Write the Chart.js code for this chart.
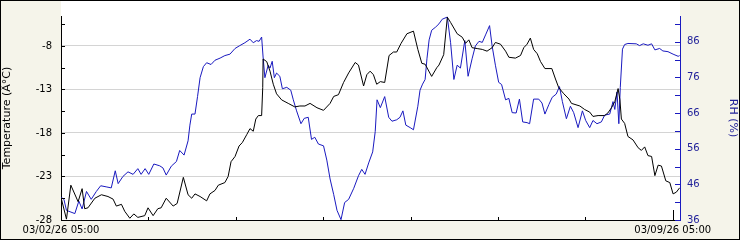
<!DOCTYPE html>
<html>
<head>
<meta charset="utf-8">
<script src="https://cdn.jsdelivr.net/npm/chart.js@4.4.1/dist/chart.umd.min.js"></script>
<style>
    html, body { margin: 0; padding: 0; background: #fff; }
    #wrap { width: 740px; height: 240px; box-sizing: border-box; border: 1px solid #000; background: #f5f4ea; }
    canvas { display: block; }
</style>
</head>
<body>
<div id="wrap"><canvas id="weatherChart" width="738" height="238"></canvas></div>
<script>
// hours since 03/02/26 05:00
const tempHours = [0, 1.5, 2.7, 4.7, 5.8, 6.5, 7.4, 9.3, 11.1, 12.9,
    14.3, 15.2, 16.6, 17.5, 18.9, 20.0, 21.1, 23.0, 23.9, 25.3,
    26.6, 27.5, 28.9, 30.8, 31.9, 33.6, 34.9, 35.9, 36.8, 38.2,
    40.0, 40.9, 42.3, 43.2, 45.0, 45.9, 46.7, 47.8, 48.9, 49.8,
    51.0, 51.9, 52.8, 53.5, 54.2, 55.1, 55.4, 55.5, 56.5, 57.4,
    58.3, 59.2, 60.6, 62.4, 64.2, 65.6, 67.0, 68.4, 70.3, 72.1,
    73.9, 74.9, 76.2, 77.6, 79.0, 80.8, 81.7, 83.1, 84.0, 84.9,
    85.8, 86.7, 87.7, 88.9, 90.1, 91.3, 92.2, 93.4, 95.0, 96.8,
    98.0, 99.1, 100.0, 101.8, 103.2, 103.8, 105.1, 106.1, 107.0, 108.8,
    110.2, 111.1, 112.0, 112.9, 114.3, 115.7, 117.0, 118.4, 119.3, 120.7,
    122.1, 123.0, 124.8, 126.2, 127.1, 128.0, 128.9, 129.8, 130.8, 131.7,
    132.9, 134.8, 135.8, 136.7, 138.1, 139.5, 140.2, 142.5, 143.8, 145.2,
    146.1, 147.5, 149.3, 150.2, 151.2, 152.1, 153.0, 153.5, 153.9, 154.8,
    155.7, 157.1, 158.5, 159.4, 160.3, 161.2, 162.2, 163.1, 164.0, 164.9,
    166.1, 167.2, 168.1, 169.0, 169.9];
const tempValues = [-25.4, -27.9, -24.0, -25.9, -24.4, -26.7, -26.6, -25.5, -25.1, -25.3,
    -25.6, -26.4, -26.2, -27.0, -27.8, -27.3, -27.7, -27.5, -26.6, -27.5,
    -26.7, -26.6, -25.5, -26.4, -26.1, -23.1, -25.1, -25.5, -25.0, -25.3,
    -25.8, -25.0, -24.6, -24.0, -23.7, -23.0, -21.3, -20.7, -19.5, -19.1,
    -18.2, -17.5, -17.8, -16.4, -16.0, -16.0, -12.8, -9.5, -9.8, -10.9,
    -12.4, -13.5, -14.2, -14.6, -15.0, -14.9, -14.9, -14.6, -15.1, -15.4,
    -14.6, -13.8, -13.6, -12.2, -11.1, -9.9, -10.2, -12.6, -11.3, -10.9,
    -11.3, -12.4, -12.1, -12.2, -9.1, -8.7, -8.7, -7.7, -6.6, -6.3,
    -8.4, -10.0, -10.1, -11.5, -10.5, -10.2, -9.0, -4.7, -5.3, -6.6,
    -7.0, -7.7, -7.3, -8.2, -8.3, -8.4, -8.6, -8.2, -7.6, -7.8,
    -8.6, -9.3, -9.4, -9.1, -8.2, -7.8, -7.1, -8.4, -8.9, -9.8,
    -10.6, -10.6, -11.8, -12.8, -13.5, -14.1, -14.6, -14.9, -15.3, -15.6,
    -16.1, -16.0, -16.0, -15.7, -15.1, -14.4, -12.9, -14.2, -16.4, -16.9,
    -18.4, -18.8, -19.7, -20.0, -19.6, -20.6, -20.7, -22.9, -21.7, -21.8,
    -23.5, -23.7, -25.0, -24.8, -24.3];

const rhHours = [0, 0.8, 1.5, 3.8, 4.9, 5.8, 7.0, 8.3, 9.7, 10.9,
    12.4, 13.8, 14.9, 15.7, 17.0, 18.4, 19.8, 21.1, 22.0, 23.1,
    24.1, 25.5, 27.1, 28.0, 28.9, 30.3, 31.7, 32.6, 33.8, 34.9,
    35.4, 35.9, 36.8, 37.5, 38.2, 39.1, 40.0, 41.2, 42.3, 43.7,
    45.0, 46.4, 47.8, 49.1, 50.5, 51.9, 52.8, 53.7, 54.4, 55.1,
    55.5, 56.0, 56.9, 57.4, 58.0, 58.6, 59.2, 60.1, 60.8, 62.0,
    63.1, 63.8, 64.7, 65.9, 66.8, 67.9, 68.8, 69.7, 70.7, 72.1,
    73.0, 73.9, 74.9, 75.8, 76.9, 77.9, 79.0, 80.4, 81.7, 82.6,
    83.5, 84.5, 85.6, 86.3, 86.8, 87.7, 88.9, 90.0, 90.9, 92.2,
    93.1, 93.9, 94.7, 95.9, 96.8, 98.0, 98.6, 99.3, 100.0, 100.5,
    101.1, 101.8, 102.9, 103.8, 104.7, 106.1, 107.0, 107.9, 108.8, 109.7,
    110.9, 111.8, 112.9, 113.8, 114.8, 115.7, 116.6, 117.7, 118.4, 119.3,
    120.2, 121.0, 122.1, 123.0, 123.9, 125.0, 125.9, 126.8, 128.0, 128.7,
    129.8, 131.2, 132.1, 132.9, 134.0, 134.9, 136.0, 136.9, 137.7, 138.8,
    139.9, 140.8, 142.0, 143.2, 144.1, 145.2, 146.1, 147.2, 148.4, 149.3,
    150.7, 151.6, 152.1, 152.7, 153.2, 153.6, 154.2, 154.8, 155.7, 158.0,
    158.9, 159.9, 161.2, 162.2, 163.1, 164.4, 165.3, 166.7, 168.1, 169.5,
    169.9];
const rhValues = [42.4, 41.8, 38.7, 37.8, 41.3, 39.1, 44.0, 41.8, 44.0, 45.6,
    45.3, 45.0, 49.8, 46.2, 48.2, 49.5, 48.8, 50.4, 48.8, 50.4,
    48.8, 51.7, 51.2, 50.6, 48.6, 51.1, 52.4, 55.5, 54.2, 58.2,
    62.6, 65.7, 65.7, 70.6, 75.9, 79.0, 80.1, 79.6, 80.8, 81.4,
    82.1, 82.5, 84.1, 84.9, 85.7, 86.7, 85.7, 86.3, 86.1, 87.3,
    81.7, 75.9, 79.4, 78.6, 80.5, 75.9, 77.2, 76.3, 72.8, 73.2,
    72.4, 69.7, 66.6, 63.0, 64.5, 64.8, 58.6, 59.2, 57.3, 56.8,
    52.8, 47.5, 43.1, 38.7, 36.1, 40.9, 41.8, 44.9, 48.4, 50.2,
    48.8, 52.0, 55.1, 60.8, 69.7, 67.5, 70.6, 64.8, 63.7, 64.1,
    64.8, 66.6, 62.6, 61.9, 61.3, 67.9, 72.4, 74.1, 75.4, 81.2,
    86.5, 89.2, 90.1, 91.0, 92.3, 92.9, 85.7, 75.4, 79.4, 78.6,
    86.3, 76.3, 81.2, 84.8, 86.1, 85.8, 87.9, 90.5, 84.8, 79.4,
    74.6, 74.0, 69.7, 70.1, 66.1, 66.0, 69.9, 63.5, 63.3, 63.0,
    69.9, 69.9, 68.8, 65.7, 68.4, 70.4, 71.3, 73.4, 69.2, 64.4,
    67.9, 66.1, 61.9, 66.6, 63.9, 61.9, 63.9, 63.0, 63.5, 65.4,
    65.7, 69.2, 67.0, 71.9, 63.0, 73.2, 83.9, 85.2, 85.5, 85.4,
    84.9, 85.4, 85.0, 85.4, 83.7, 84.1, 83.4, 83.2, 82.5, 81.9,
    82.1];

const dayTicks = [0, 24, 48, 72, 96, 120, 144, 168];
const dayTickLabels = ['03/02/26 05:00', '', '', '', '', '', '', '03/09/26 05:00'];
const tempTicks = [-28, -25.5, -23, -20.5, -18, -15.5, -13, -10.5, -8, -5.5];
const tempTickLabels = ['-28', '', '-23', '', '-18', '', '-13', '', '-8', ''];
const rhTicks = [36, 41, 46, 51, 56, 61, 66, 71, 76, 81, 86, 91];
const rhTickLabels = ['36', '', '46', '', '56', '', '66', '', '76', '', '86', ''];

const BLUE = '#1a1ac0';
const FONT = 'DejaVu Sans';

const plotBackground = {
    id: 'plotBackground',
    beforeDraw(chart) {
        const { ctx, chartArea } = chart;
        ctx.save();
        ctx.fillStyle = '#ffffff';
        ctx.fillRect(chartArea.left, 0, chartArea.right - chartArea.left, chartArea.bottom);
        ctx.restore();
    }
};

// tick marks point into the plot in the original
const innerTicks = {
    id: 'innerTicks',
    afterDraw(chart) {
        const { ctx, chartArea, scales } = chart;
        ctx.save();
        ctx.lineWidth = 1;

        ctx.strokeStyle = '#000';
        scales.y.ticks.forEach(t => {
            const py = Math.round(scales.y.getPixelForValue(t.value)) + 0.5;
            ctx.beginPath();
            ctx.moveTo(chartArea.left, py);
            ctx.lineTo(chartArea.left + 4, py);
            ctx.stroke();
        });

        scales.x.ticks.forEach((t, i) => {
            const px = Math.round(scales.x.getPixelForValue(t.value)) + 0.5;
            const len = i === scales.x.ticks.length - 1 ? 10 : 3;
            ctx.beginPath();
            ctx.moveTo(px, chartArea.bottom);
            ctx.lineTo(px, chartArea.bottom - len);
            ctx.stroke();
        });

        ctx.strokeStyle = BLUE;
        scales.y1.ticks.forEach(t => {
            const py = Math.round(scales.y1.getPixelForValue(t.value)) + 0.5;
            ctx.beginPath();
            ctx.moveTo(chartArea.right, py);
            ctx.lineTo(chartArea.right - 5, py);
            ctx.stroke();
        });
        ctx.restore();
    }
};

const ctx = document.getElementById('weatherChart').getContext('2d');
new Chart(ctx, {
    type: 'line',
    data: {
        datasets: [{
            label: 'Temperature',
            data: tempHours.map((h, i) => ({ x: h, y: tempValues[i] })),
            borderColor: '#000000',
            borderWidth: 1,
            pointRadius: 0,
            tension: 0,
            yAxisID: 'y'
        }, {
            label: 'RH',
            data: rhHours.map((h, i) => ({ x: h, y: rhValues[i] })),
            borderColor: BLUE,
            borderWidth: 1,
            pointRadius: 0,
            tension: 0,
            yAxisID: 'y1'
        }]
    },
    options: {
        responsive: false,
        animation: false,
        devicePixelRatio: 1,
        layout: { padding: { top: 4, left: 0, right: 0, bottom: 0 } },
        plugins: {
            legend: { display: false },
            tooltip: { enabled: false }
        },
        scales: {
            x: {
                type: 'linear',
                min: 0,
                max: 170,
                afterBuildTicks: scale => { scale.ticks = dayTicks.map(v => ({ value: v })); },
                afterFit: scale => { scale.height = 19; },
                grid: { drawOnChartArea: false, drawTicks: false },
                border: { display: true, color: '#000', width: 1 },
                ticks: {
                    autoSkip: false,
                    maxRotation: 0,
                    padding: 4,
                    color: '#000',
                    font: { family: FONT, size: 10 },
                    callback: (v, i) => dayTickLabels[i]
                }
            },
            y: {
                type: 'linear',
                position: 'left',
                min: -28,
                max: -4.56,
                afterBuildTicks: scale => { scale.ticks = tempTicks.map(v => ({ value: v })); },
                afterFit: scale => { scale.width = 60; },
                grid: {
                    drawTicks: false,
                    color: c => (tempTickLabels[c.index] && c.index > 0) ? '#d4d4d4' : 'rgba(0,0,0,0)'
                },
                border: { display: true, color: '#000', width: 1 },
                ticks: {
                    autoSkip: false,
                    padding: 9,
                    color: '#000',
                    font: { family: FONT, size: 10 },
                    callback: (v, i) => tempTickLabels[i]
                },
                title: {
                    display: true,
                    text: 'Temperature (Â°C)',
                    color: '#000',
                    padding: 0,
                    font: { family: FONT, size: 11 }
                }
            },
            y1: {
                type: 'linear',
                position: 'right',
                min: 36,
                max: 93.2,
                afterBuildTicks: scale => { scale.ticks = rhTicks.map(v => ({ value: v })); },
                afterFit: scale => { scale.width = 59; },
                grid: { drawOnChartArea: false, drawTicks: false },
                border: { display: true, color: BLUE, width: 1 },
                ticks: {
                    autoSkip: false,
                    padding: 7,
                    color: '#22229a',
                    font: { family: FONT, size: 10 },
                    callback: (v, i) => rhTickLabels[i]
                },
                title: {
                    display: true,
                    text: 'RH (%)',
                    color: '#22229a',
                    padding: 0,
                    font: { family: FONT, size: 11 }
                }
            }
        }
    },
    plugins: [plotBackground, innerTicks]
});
</script>
</body>
</html>
